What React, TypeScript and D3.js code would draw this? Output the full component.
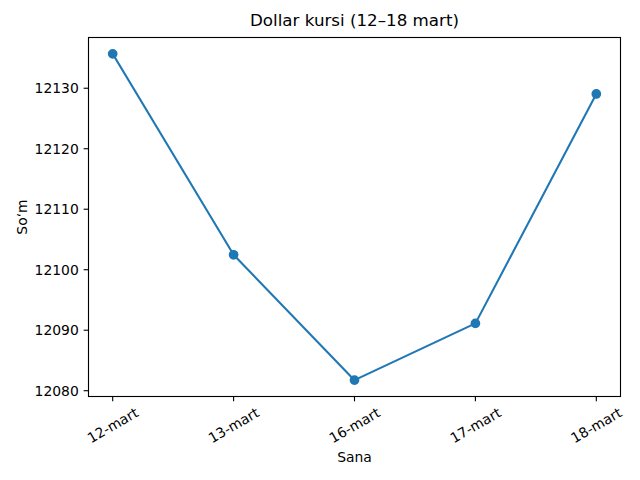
import React from "react";
import * as d3 from "d3";

const categories: string[] = ["12-mart", "13-mart", "16-mart", "17-mart", "18-mart"];
const rates: number[] = [12135.69, 12102.47, 12081.74, 12091.13, 12129.05];
const yTicks: number[] = [12080, 12090, 12100, 12110, 12120, 12130];
const title = "Dollar kursi (12–18 mart)";
const xLabel = "Sana";
const yLabel = "So‘m";

const W = 640;
const H = 480;
const L = 88.5;
const R = 620.5;
const T = 37.5;
const B = 396.5;
const COLOR = "#1f77b4";
const FONT = "'DejaVu Sans', sans-serif";
const TICK = 4.86;
const PAD = 4.86;

export default function App() {
  const x = d3.scalePoint<string>().domain(categories).range([L, R]).padding(0.2);
  const lo = d3.min(rates)!;
  const hi = d3.max(rates)!;
  const m = (hi - lo) * 0.05;
  const y = d3.scaleLinear().domain([lo - m, hi + m]).range([B, T]);
  const line = d3
    .line<number>()
    .x((_, i) => x(categories[i])!)
    .y((d) => y(d));

  return (
    <svg
      width={W}
      height={H}
      style={{ position: "absolute", left: 0, top: 0, background: "#fff" }}
      fontFamily={FONT}
    >
      <rect x={0} y={0} width={W} height={H} fill="#fff" />
      <text x={(L + R) / 2} y={26} textAnchor="middle" fontSize={16.7} fill="#000">
        {title}
      </text>
      {/* line and markers */}
      <path d={line(rates) ?? ""} fill="none" stroke={COLOR} strokeWidth={2.08} strokeLinejoin="round" strokeLinecap="square" />
      {rates.map((v, i) => (
        <circle key={i} cx={x(categories[i])} cy={y(v)} r={4.17} fill={COLOR} stroke={COLOR} strokeWidth={1.39} />
      ))}
      {/* spines */}
      <rect x={L} y={T} width={R - L} height={B - T} fill="none" stroke="#000" strokeWidth={1.11} />
      {/* y ticks */}
      {yTicks.map((t) => (
        <g key={t}>
          <line x1={L - TICK} x2={L} y1={y(t)} y2={y(t)} stroke="#000" strokeWidth={1.11} />
          <text x={L - TICK - PAD} y={y(t)} dy="0.36em" textAnchor="end" fontSize={13.9} fill="#000">
            {t}
          </text>
        </g>
      ))}
      {/* x ticks */}
      {categories.map((c) => {
        const cx = x(c)!;
        const cy = B + TICK + PAD + 19;
        return (
          <g key={c}>
            <line x1={cx} x2={cx} y1={B} y2={B + TICK} stroke="#000" strokeWidth={1.11} />
            <text
              x={cx}
              y={cy}
              dy="0.36em"
              textAnchor="middle"
              fontSize={13.9}
              fill="#000"
              transform={`rotate(-30, ${cx}, ${cy})`}
            >
              {c}
            </text>
          </g>
        );
      })}
      <text x={(L + R) / 2} y={462} textAnchor="middle" fontSize={13.9} fill="#000">
        {xLabel}
      </text>
      <text
        x={0}
        y={0}
        textAnchor="middle"
        fontSize={13.9}
        fill="#000"
        transform={`translate(27, ${(T + B) / 2}) rotate(-90)`}
      >
        {yLabel}
      </text>
    </svg>
  );
}
